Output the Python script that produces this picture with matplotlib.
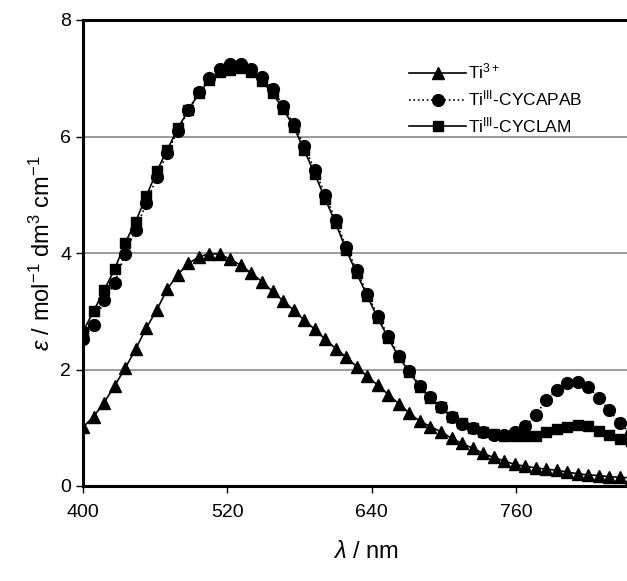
import matplotlib
matplotlib.use('Agg')
import matplotlib.pyplot as plt

plt.rcParams['font.family'] = ['Liberation Sans', 'DejaVu Sans']
plt.rcParams['mathtext.fontset'] = 'custom'
plt.rcParams['mathtext.rm'] = 'Liberation Sans'
plt.rcParams['mathtext.it'] = 'Liberation Sans:italic'
plt.rcParams['mathtext.bf'] = 'Liberation Sans:bold'

wavelength = [400, 408.75, 417.5, 426.25, 435, 443.75, 452.5, 461.25, 470, 478.75,
              487.5, 496.25, 505, 513.75, 522.5, 531.25, 540, 548.75, 557.5, 566.25,
              575, 583.75, 592.5, 601.25, 610, 618.75, 627.5, 636.25, 645, 653.75,
              662.5, 671.25, 680, 688.75, 697.5, 706.25, 715, 723.75, 732.5, 741.25,
              750, 758.75, 767.5, 776.25, 785, 793.75, 802.5, 811.25, 820, 828.75,
              837.5, 846.25, 855]

ti3 = [1.01, 1.19, 1.43, 1.72, 2.02, 2.35, 2.71, 3.02, 3.38, 3.63,
       3.82, 3.93, 3.99, 3.98, 3.89, 3.79, 3.65, 3.51, 3.34, 3.18,
       3.02, 2.85, 2.69, 2.52, 2.36, 2.21, 2.05, 1.88, 1.73, 1.57,
       1.41, 1.25, 1.11, 1.02, 0.93, 0.82, 0.73, 0.65, 0.56, 0.49,
       0.43, 0.37, 0.34, 0.31, 0.29, 0.27, 0.24, 0.21, 0.19, 0.18,
       0.16, 0.15, 0.14]

cycapab = [2.52, 2.76, 3.19, 3.48, 3.99, 4.40, 4.85, 5.30, 5.72, 6.10,
           6.45, 6.76, 7.00, 7.16, 7.24, 7.25, 7.16, 7.02, 6.82, 6.53,
           6.22, 5.84, 5.43, 5.00, 4.56, 4.10, 3.70, 3.30, 2.92, 2.57,
           2.24, 1.98, 1.72, 1.52, 1.35, 1.19, 1.07, 0.99, 0.92, 0.88,
           0.88, 0.92, 1.03, 1.22, 1.48, 1.65, 1.77, 1.79, 1.70, 1.51,
           1.30, 1.08, 0.90]

cyclam = [2.65, 3.00, 3.36, 3.72, 4.17, 4.54, 4.97, 5.40, 5.77, 6.14,
          6.45, 6.74, 6.97, 7.10, 7.15, 7.17, 7.10, 6.95, 6.74, 6.48,
          6.17, 5.77, 5.36, 4.93, 4.51, 4.05, 3.65, 3.26, 2.88, 2.54,
          2.21, 1.96, 1.70, 1.51, 1.35, 1.19, 1.08, 1.00, 0.93, 0.89,
          0.86, 0.86, 0.85, 0.86, 0.92, 0.97, 1.02, 1.05, 1.03, 0.95,
          0.87, 0.80, 0.77]

x_ticks = [400, 520, 640, 760]
y_ticks = [0, 2, 4, 6, 8]

fig = plt.figure(figsize=(6.27, 5.81), dpi=100)
ax = fig.add_axes([83/627, 95/581, 470*1.2033/627, 466/581])

ax.plot(wavelength, ti3, '-', color='black', lw=1.2, marker='^', ms=8,
        label=r'Ti$^{3+}$')
ax.plot(wavelength, cycapab, ':', color='black', lw=1.2, marker='o', ms=8.5,
        label=r'Ti$^{\mathrm{III}}$-CYCAPAB')
ax.plot(wavelength, cyclam, '-', color='black', lw=1.2, marker='s', ms=7.5,
        label=r'Ti$^{\mathrm{III}}$-CYCLAM')

ax.set_xlim(400, 870)
ax.set_ylim(0, 8)
ax.set_xticks(x_ticks)
ax.set_yticks(y_ticks)
ax.yaxis.grid(True, color='#8a8a8a', lw=1.2)
ax.set_axisbelow(True)
for s in ['left', 'bottom', 'top']:
    ax.spines[s].set_linewidth(2.2)
ax.spines['right'].set_visible(False)
ax.tick_params(axis='both', direction='out', length=5, width=1, labelsize=14,
               colors='black')
ax.tick_params(axis='x', pad=8)

ax.set_xlabel(r'$\lambda$ / nm', fontsize=17, labelpad=14)
ax.set_ylabel(r'$\varepsilon$ / mol$^{-1}$ dm$^3$ cm$^{-1}$', fontsize=17, labelpad=4)

ax.legend(loc='upper left', bbox_to_anchor=(402/627, 1 - 55/581),
          bbox_transform=fig.transFigure, frameon=False, fontsize=12.5,
          handlelength=3.3, handletextpad=0.1, labelspacing=0.4,
          borderaxespad=0)

fig.savefig('out.png', dpi=100)
